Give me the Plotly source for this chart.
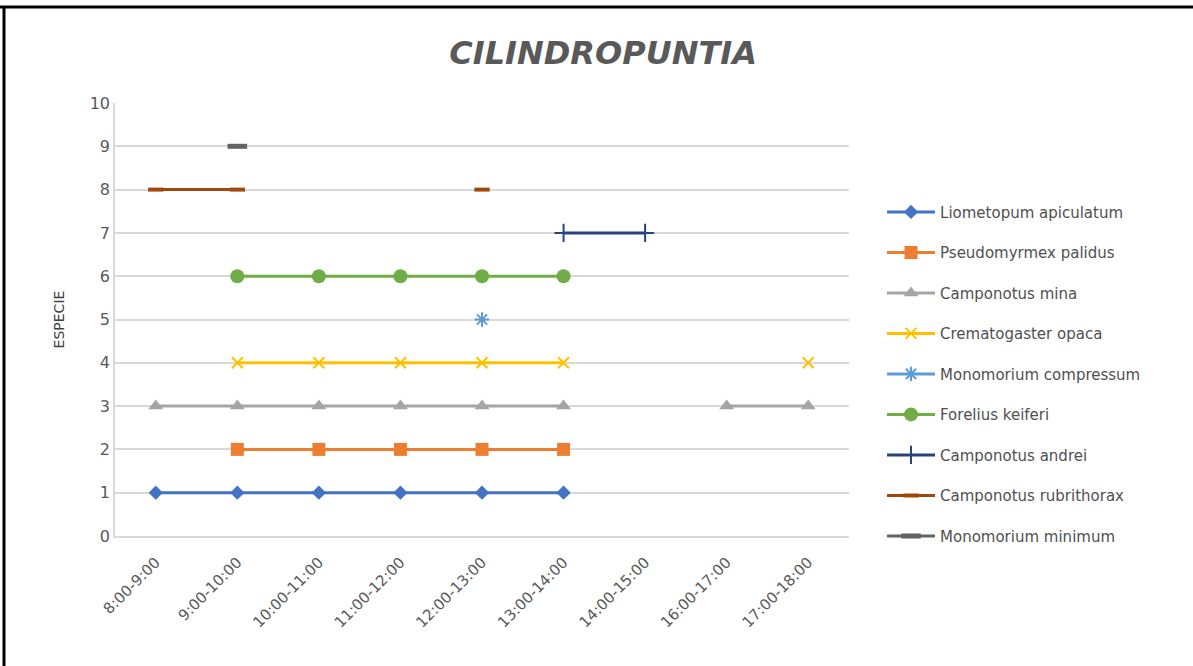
import plotly.graph_objects as go

categories = ["8:00-9:00", "9:00-10:00", "10:00-11:00", "11:00-12:00", "12:00-13:00",
              "13:00-14:00", "14:00-15:00", "16:00-17:00", "17:00-18:00"]

N = None
liometopum = [1, 1, 1, 1, 1, 1, N, N, N]
pseudomyrmex = [N, 2, 2, 2, 2, 2, N, N, N]
camponotus_mina = [3, 3, 3, 3, 3, 3, N, 3, 3]
crematogaster = [N, 4, 4, 4, 4, 4, N, N, 4]
monomorium_comp = [N, N, N, N, 5, N, N, N, N]
forelius = [N, 6, 6, 6, 6, 6, N, N, N]
camponotus_andrei = [N, N, N, N, N, 7, 7, N, N]
camponotus_rubri = [8, 8, N, N, 8, N, N, N, N]
monomorium_min = [N, 9, N, N, N, N, N, N, N]

series = [
    ("Liometopum apiculatum", liometopum, "#4472C4", "diamond", 11),
    ("Pseudomyrmex palidus", pseudomyrmex, "#ED7D31", "square", 13),
    ("Camponotus mina", camponotus_mina, "#A5A5A5", "triangle-up", 13),
    ("Crematogaster opaca", crematogaster, "#FFC000", "x-thin-open", 11),
    ("Monomorium compressum", monomorium_comp, "#5B9BD5", "asterisk-open", 12),
    ("Forelius keiferi", forelius, "#70AD47", "circle", 14),
    ("Camponotus andrei", camponotus_andrei, "#264478", "cross-thin-open", 13),
    ("Camponotus rubrithorax", camponotus_rubri, "#9E480E", "line-ew-open", 11),
    ("Monomorium minimum", monomorium_min, "#636363", "line-ew-open", 14),
]

fig = go.Figure()
for i, (name, vals, color, sym, size) in enumerate(series):
    fig.add_trace(go.Scatter(
        x=categories, y=vals, name=name, mode="lines+markers",
        legendgroup=f"g{i}",
        line=dict(color=color, width=3),
        marker=dict(symbol=sym, size=size, color=color,
                    line=dict(color=color, width=2 if "open" in sym else 0)),
        connectgaps=False,
    ))
fig.data[7].marker.line.width = 4
fig.data[8].marker.line.width = 5

TICKFONT = "DejaVu Sans"

fig.update_layout(
    width=1193, height=666,
    paper_bgcolor="white", plot_bgcolor="white",
    margin=dict(l=115, r=344, t=103, b=130),
    title=dict(text="<i><b>CILINDROPUNTIA</b></i>", x=0.665, xanchor="center",
               xref="paper", y=0.92, yanchor="middle",
               font=dict(family="DejaVu Sans", size=32, color="#595959")),
    font=dict(family=TICKFONT, color="#595959"),
    showlegend=True,
    legend=dict(x=1.045, y=0.786, xanchor="left", yanchor="top",
                font=dict(size=15, color="#505050", family=TICKFONT),
                tracegroupgap=18, itemwidth=48,
                bgcolor="rgba(0,0,0,0)"),
    xaxis=dict(type="category", range=[-0.5, 8.5], tickangle=-45,
               tickfont=dict(size=15, color="#595959"), showgrid=False,
               showline=True, linecolor="#D9D9D9", linewidth=1.5, ticks="",
               ticklabelstandoff=10),
    yaxis=dict(range=[0, 10], dtick=1, tickfont=dict(size=16, color="#595959"),
               showgrid=True, gridcolor="#D9D9D9", gridwidth=1.5, zeroline=False,
               showline=True, linecolor="#D9D9D9", linewidth=1.5, ticks="",
               title=dict(text="ESPECIE", font=dict(size=14, color="#404040"), standoff=22)),
    shapes=[
        dict(type="line", xref="paper", yref="paper", x0=-0.16, x1=1.5,
             y0=(666 - 130 - 7) / 433, y1=(666 - 130 - 7) / 433,
             line=dict(color="black", width=3)),
        dict(type="line", xref="paper", yref="paper", x0=-(115 - 4) / 734, x1=-(115 - 4) / 734,
             y0=-0.5, y1=(666 - 130 - 6) / 433,
             line=dict(color="black", width=3)),
    ],
)

fig.write_html("out.html", config={"displayModeBar": False},
               post_script="document.body.style.margin='0';")
